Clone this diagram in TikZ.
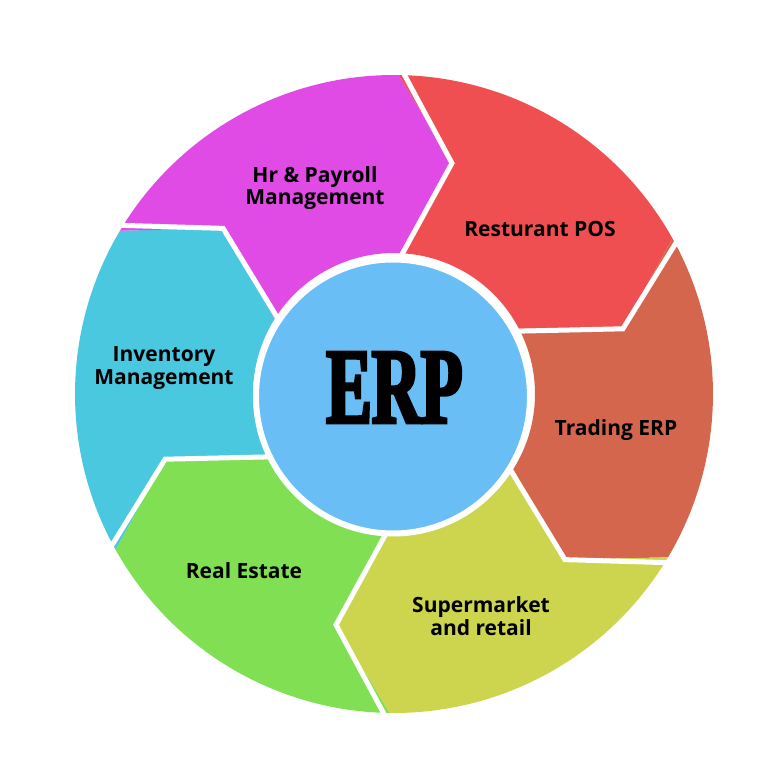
\documentclass[tikz,border=0pt]{standalone}
\usepackage{fontspec}
\setmainfont{Open Sans}
\newfontface\erpfont{Liberation Serif Bold}[FakeStretch=0.63,FakeBold=3]
\definecolor{cMag}{HTML}{E14BE5}
\definecolor{cRed}{HTML}{EF4F51}
\definecolor{cBrown}{HTML}{D3664D}
\definecolor{cYel}{HTML}{CDD54F}
\definecolor{cGrn}{HTML}{80DF53}
\definecolor{cCyan}{HTML}{49C8E0}
\definecolor{cBlue}{HTML}{69BEF5}
\begin{document}
\begin{tikzpicture}[x=1pt,y=1pt,
  lbl/.style={font=\fontsize{21}{22.5}\selectfont\bfseries, align=center, text=black, inner sep=0pt},
  sep/.style={white, line width=5pt, line join=miter}]
\useasboundingbox (-394,-374) rectangle (374,394);
\fill[white] (-394,-374) rectangle (374,394);
\foreach \k/\col in {0/cRed,1/cBrown,2/cYel,3/cGrn,4/cCyan,5/cMag}{
  \pgfmathsetmacro\a{89.2-60*\k}
  \pgfmathsetmacro\b{\a-60}
  \pgfmathsetmacro\at{\a-13.3}
  \pgfmathsetmacro\bt{\b-13.3}
  \pgfmathsetmacro\ai{\a-1.5}
  \pgfmathsetmacro\bi{\b-1.5}
  \fill[\col] (\a:319) arc[start angle=\a, end angle=\b, radius=319]
     -- (\bt:238) -- (\bi:141) arc[start angle=\bi, end angle=\ai, radius=141]
     -- (\at:238) -- cycle;
}
\foreach \k in {0,...,5}{
  \pgfmathsetmacro\a{89.2-60*\k}
  \pgfmathsetmacro\at{\a-13.3}
  \pgfmathsetmacro\ai{\a-1.5}
  \draw[sep] (\a:330) -- (\at:238) -- (\ai:135);
}
\node[circle, fill=cBlue, draw=white, line width=6pt, inner sep=0pt, minimum size=274pt] (hub) at (-1,-2.5) {};
\node[inner sep=0pt] (erp) at (0.5,6.5) {\fontsize{108}{108}\erpfont ERP};
\node[lbl] (hr) at (-79,206) {Hr \& Payroll\\Management};
\node[lbl] (pos) at (146,165) {Resturant POS};
\node[lbl] (trade) at (222,-36) {Trading ERP};
\node[lbl] (super) at (87,-222) {Supermarket\\and retail};
\node[lbl] (estate) at (-150,-177) {Real Estate};
\node[lbl] (inv) at (-230,26) {Inventory\\Management};
\end{tikzpicture}
\end{document}
